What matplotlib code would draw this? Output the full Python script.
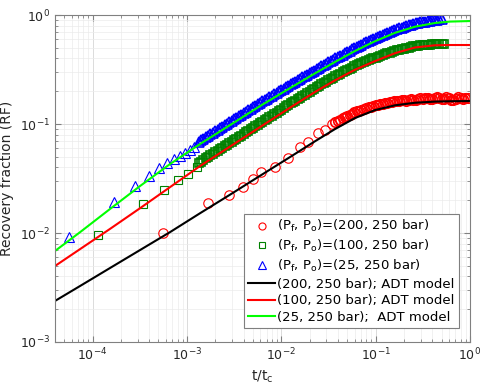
import matplotlib
matplotlib.use('Agg')
import matplotlib.pyplot as plt

# model curves (ADT model)
t_model = [4.0e-5, 7.40e-5, 1.53e-4, 3.19e-4, 6.64e-4, 1.38e-3, 2.87e-3, 5.96e-3, 0.0124,
           0.0228, 0.0372, 0.0605, 0.0986, 0.161, 0.261, 0.426, 0.614, 1.0]
rf_model_200 = [2.38e-3, 3.27e-3, 4.77e-3, 6.98e-3, 0.0102, 0.0152, 0.0225, 0.0335, 0.0498,
                0.0695, 0.0900, 0.1135, 0.1343, 0.1486, 0.1567, 0.1607, 0.1618, 0.1626]
rf_model_100 = [4.98e-3, 7.13e-3, 0.0109, 0.0169, 0.0264, 0.0412, 0.0622, 0.0938, 0.1413,
                0.197, 0.252, 0.315, 0.378, 0.447, 0.504, 0.528, 0.531, 0.531]
rf_model_25 = [6.84e-3, 0.0102, 0.0166, 0.0270, 0.0430, 0.0656, 0.0979, 0.1462, 0.2138,
               0.2917, 0.3715, 0.4677, 0.5754, 0.6871, 0.7816, 0.8453, 0.8710, 0.8810]

# sample times where the measured points get dense
t_grid = [1.334e-3, 1.413e-3, 1.496e-3, 1.585e-3, 1.679e-3, 1.778e-3, 1.884e-3, 1.995e-3,
          2.113e-3, 2.239e-3, 2.371e-3, 2.512e-3, 2.661e-3, 2.818e-3, 2.985e-3, 3.162e-3,
          3.350e-3, 3.548e-3, 3.758e-3, 3.981e-3, 4.217e-3, 4.467e-3, 4.732e-3, 5.012e-3,
          5.309e-3, 5.623e-3, 5.957e-3, 6.310e-3, 6.683e-3, 7.079e-3, 7.499e-3, 7.943e-3,
          8.414e-3, 8.913e-3, 9.441e-3,
          0.01000, 0.01059, 0.01122, 0.01189, 0.01259, 0.01334, 0.01413, 0.01496, 0.01585,
          0.01679, 0.01778, 0.01884, 0.01995, 0.02113, 0.02239, 0.02371, 0.02512, 0.02661,
          0.02818, 0.02985, 0.03162, 0.03350, 0.03548, 0.03758, 0.03981, 0.04217, 0.04467,
          0.04732, 0.05012, 0.05309, 0.05623, 0.05957, 0.06310, 0.06683, 0.07079, 0.07499,
          0.07943, 0.08414, 0.08913, 0.09441,
          0.1000, 0.1059, 0.1122, 0.1189, 0.1259, 0.1334, 0.1413, 0.1496, 0.1585, 0.1679,
          0.1778, 0.1884, 0.1995, 0.2113, 0.2239, 0.2371, 0.2512, 0.2661, 0.2818, 0.2985,
          0.3162, 0.3350, 0.3548, 0.3758, 0.3981, 0.4217, 0.4467, 0.4732, 0.5012, 0.5309,
          0.5623, 0.5957, 0.6310, 0.6683, 0.7079, 0.7499, 0.7943, 0.8414, 0.8913, 0.9441]

# (Pf, Po) = (25, 250 bar)
t_tri_early = [5.65e-5, 1.695e-4, 2.825e-4, 3.955e-4, 5.085e-4, 6.215e-4, 7.345e-4,
               8.475e-4, 9.605e-4, 1.0735e-3, 1.1865e-3]
rf_tri_early = [9.2e-3, 0.0192, 0.0270, 0.0333, 0.0395, 0.0439, 0.0478, 0.0508, 0.0542,
                0.0577, 0.0615]
rf_tri_dense = [0.0689, 0.0712, 0.0735, 0.0758, 0.0782, 0.0808, 0.0833, 0.0860, 0.0887, 0.0916,
                0.0945, 0.0975, 0.1007, 0.1039, 0.1072, 0.1107, 0.1143, 0.1179, 0.1217, 0.1256,
                0.1296, 0.1338, 0.1381, 0.1425, 0.1471, 0.1518, 0.1567, 0.1614, 0.1663, 0.1714,
                0.1766, 0.1819, 0.1874, 0.1931, 0.1990, 0.2050, 0.2112, 0.2176, 0.2242, 0.2310,
                0.2378, 0.2449, 0.2522, 0.2597, 0.2674, 0.2754, 0.2835, 0.2920, 0.3007, 0.3096,
                0.3187, 0.3280, 0.3375, 0.3471, 0.3571, 0.3675, 0.3781, 0.3890, 0.4003, 0.4113,
                0.4227, 0.4343, 0.4463, 0.4586, 0.4712, 0.4842, 0.4975, 0.5100, 0.5227, 0.5357,
                0.5489, 0.5626, 0.5765, 0.5908, 0.6053, 0.6197, 0.6328, 0.6461, 0.6598, 0.6737,
                0.6880, 0.7024, 0.7173, 0.7324, 0.7447, 0.7563, 0.7679, 0.7797, 0.7916, 0.8039,
                0.8162, 0.8287, 0.8401, 0.8478, 0.8556, 0.8636, 0.8716, 0.8796, 0.8877, 0.8959,
                0.9042, 0.9092, 0.9136, 0.9178]

# (Pf, Po) = (100, 250 bar)
t_sq_early = [1.15e-4, 3.45e-4, 5.75e-4, 8.05e-4, 1.035e-3, 1.265e-3]
rf_sq_early = [9.59e-3, 0.01845, 0.0248, 0.0306, 0.0348, 0.0407]
rf_sq_dense = [0.0437, 0.0452, 0.0467, 0.0483, 0.0499, 0.0515, 0.0532, 0.0550, 0.0568, 0.0586,
               0.0606, 0.0626, 0.0646, 0.0668, 0.0689, 0.0712, 0.0735, 0.0760, 0.0784, 0.0810,
               0.0837, 0.0864, 0.0893, 0.0922, 0.0952, 0.0984, 0.1016, 0.1050, 0.1084, 0.1119,
               0.1156, 0.1194, 0.1233, 0.1274, 0.1315, 0.1358, 0.1403, 0.1449, 0.1496, 0.1545,
               0.1594, 0.1644, 0.1697, 0.1750, 0.1806, 0.1863, 0.1922, 0.1983, 0.2046, 0.2111,
               0.2176, 0.2241, 0.2307, 0.2376, 0.2447, 0.2519, 0.2595, 0.2672, 0.2750, 0.2822,
               0.2897, 0.2973, 0.3052, 0.3133, 0.3216, 0.3300, 0.3387, 0.3466, 0.3533, 0.3611,
               0.3682, 0.3763, 0.3836, 0.3912, 0.3997, 0.4074, 0.4145, 0.4217, 0.4290, 0.4365,
               0.4441, 0.4519, 0.4597, 0.4677, 0.4739, 0.4795, 0.4853, 0.4910, 0.4969, 0.5028,
               0.5088, 0.5160, 0.5209, 0.5239, 0.5256, 0.5286, 0.5305, 0.5335, 0.5365, 0.5383,
               0.5414, 0.5410, 0.5414, 0.5418, 0.5422]

# (Pf, Po) = (200, 250 bar)
t_circ_early = [5.6e-4, 1.68e-3, 2.8e-3, 3.92e-3, 5.04e-3, 6.16e-3, 8.6e-3, 0.0118, 0.0158,
                0.0192, 0.0245, 0.0291, 0.0345]
rf_circ_early = [0.0100, 0.0188, 0.0223, 0.0264, 0.0313, 0.0363, 0.0403, 0.0488, 0.0615,
                 0.0684, 0.0826, 0.0881, 0.1000]
rf_circ_dense = [0.1039, 0.1067, 0.1097, 0.1127, 0.1153, 0.1185, 0.1216, 0.1247, 0.1278,
                 0.1304, 0.1327, 0.1350, 0.1374, 0.1398, 0.1420, 0.1445, 0.1471,
                 0.1494, 0.1508, 0.1522, 0.1537, 0.1549, 0.1564, 0.1579, 0.1595, 0.1610,
                 0.1619, 0.1625, 0.1658, 0.1653, 0.1633, 0.1659, 0.1700, 0.1672,
                 0.1658, 0.1701, 0.1722, 0.1688, 0.1724, 0.1745, 0.1711, 0.1684, 0.1745,
                 0.1763, 0.1725, 0.1680, 0.1713, 0.1763, 0.1741, 0.1679, 0.1657, 0.1712,
                 0.1753, 0.1730, 0.1699, 0.1723, 0.1740]

t_tri_dense = t_grid[:len(rf_tri_dense)]
t_sq_dense = t_grid[:len(rf_sq_dense)]
t_circ_dense = t_grid[len(t_grid) - len(rf_circ_dense):]

fig = plt.figure(figsize=(4.84, 3.86), dpi=100)
ax = fig.add_axes([0.1136, 0.114, 0.8574, 0.847])

circ = dict(ls='none', marker='o', mfc='none', mec='#ff0000', ms=6.8)
sq = dict(ls='none', marker='s', mfc='none', mec='#008000', ms=6.0)
tri = dict(ls='none', marker='^', mfc='none', mec='#0000ff', ms=7.0)

ax.plot(t_circ_early, rf_circ_early, mew=0.8, **circ,
        label=r'(P$_\mathrm{f}$, P$_\mathrm{o}$)=(200, 250 bar)')
ax.plot(t_circ_dense, rf_circ_dense, mew=1.2, **circ)
ax.plot(t_sq_early, rf_sq_early, mew=0.8, **sq,
        label=r'(P$_\mathrm{f}$, P$_\mathrm{o}$)=(100, 250 bar)')
ax.plot(t_sq_dense, rf_sq_dense, mew=1.2, **sq)
ax.plot(t_tri_early, rf_tri_early, mew=0.8, **tri,
        label=r'(P$_\mathrm{f}$, P$_\mathrm{o}$)=(25, 250 bar)')
ax.plot(t_tri_dense, rf_tri_dense, mew=1.2, **tri)
ax.plot(t_model, rf_model_200, '-', color='black', lw=1.5, label='(200, 250 bar); ADT model')
ax.plot(t_model, rf_model_100, '-', color='#ff0000', lw=1.5, label='(100, 250 bar); ADT model')
ax.plot(t_model, rf_model_25, '-', color='#00ff00', lw=1.5, label='(25, 250 bar);  ADT model')

ax.set_xscale('log')
ax.set_yscale('log')
ax.set_xlim(4e-5, 1)
ax.set_ylim(1e-3, 1)

ax.set_axisbelow(True)
ax.grid(True, which='major', color='#d6d6d6', lw=0.6)
ax.grid(True, which='minor', color='#ebebeb', lw=0.5)
ax.tick_params(which='both', direction='in', top=True, right=True, color='#808080',
               labelcolor='#262626', labelsize=9)
ax.tick_params(which='major', length=4)
ax.tick_params(which='minor', length=2)
for s in ax.spines.values():
    s.set_color('#808080')
    s.set_linewidth(0.8)

ax.set_xlabel(r't/t$_\mathrm{c}$', fontsize=10, color='#262626')
ax.set_ylabel('Recovery fraction (RF)', fontsize=10, color='#262626')

leg = ax.legend(loc='upper left', bbox_to_anchor=(0.455, 0.391), fontsize=9.5,
                fancybox=False, edgecolor='#7f7f7f', framealpha=1, borderpad=0.3,
                labelspacing=0.28, handlelength=2.1, handletextpad=0.15, borderaxespad=0,
                markerscale=0.75)
leg.get_frame().set_linewidth(0.8)

plt.savefig('out.png', dpi=100)
